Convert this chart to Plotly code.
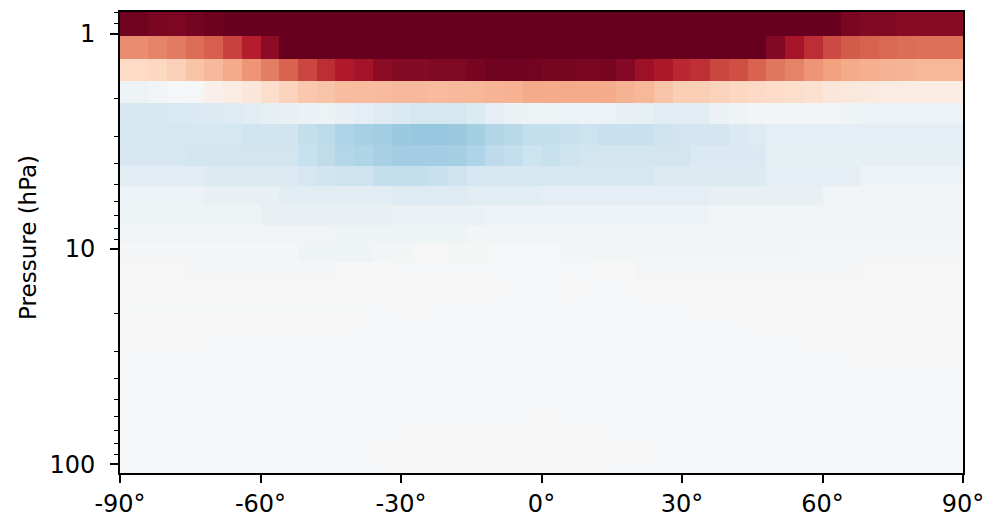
import math
import plotly.graph_objects as go

# ---- data ----
# latitude cell edges (degrees)
lat_edges = [-90, -84, -80, -76, -72, -68, -64, -60, -56, -52, -48, -44, -40, -36, -32,
             -28, -24, -20, -16, -12, -8, -4, 0, 4, 8, 12, 16, 20, 24, 28, 32, 36, 40,
             44, 48, 52, 56, 60, 64, 68, 72, 76, 80, 84, 90]
# pressure cell edges (hPa), top of chart first
p_edges = [0.794, 1.026, 1.316, 1.665, 2.099, 2.636, 3.299, 4.116, 5.095, 6.262, 7.757,
           9.40, 11.48, 13.81, 16.69, 19.86, 23.82, 28.47, 33.88, 40.2, 47.7, 56.6,
           66.9, 79.4, 94.5, 109.7]

# values per pressure layer (one row per layer, 44 latitude bands each)
row_00 = [3.90, 3.80, 3.77, 3.86, 3.95, 4.05, 4.30, 4.50, 4.70, 4.90, 5.10, 5.30, 5.50, 5.60, 5.70, 5.80, 5.80, 5.90, 5.90, 6.00, 6.00, 6.00, 6.00, 6.00, 5.90, 5.90, 5.80, 5.70, 5.60, 5.50, 5.30, 5.10, 4.90, 4.70, 4.50, 4.40, 4.20, 4.05, 3.80, 3.71, 3.71, 3.65, 3.65, 3.65]
row_01 = [1.89, 1.98, 2.09, 2.24, 2.40, 2.74, 3.14, 3.60, 4.10, 4.30, 4.50, 4.70, 4.90, 5.00, 5.10, 5.20, 5.20, 5.30, 5.30, 5.30, 5.30, 5.30, 5.30, 5.30, 5.20, 5.20, 5.10, 5.00, 4.90, 4.80, 4.60, 4.40, 4.20, 4.05, 3.71, 3.34, 2.97, 2.63, 2.46, 2.38, 2.30, 2.24, 2.22, 2.22]
row_02 = [0.80, 0.86, 0.96, 1.16, 1.31, 1.52, 1.78, 2.06, 2.36, 2.69, 2.97, 3.20, 3.36, 3.60, 3.68, 3.68, 3.74, 3.74, 3.82, 3.90, 3.90, 3.87, 3.82, 3.82, 3.80, 3.82, 3.69, 3.44, 3.23, 3.02, 2.94, 2.69, 2.58, 2.36, 2.13, 2.00, 1.78, 1.63, 1.52, 1.44, 1.40, 1.36, 1.32, 1.32]
row_03 = [-0.21, -0.14, -0.04, -0.04, 0.20, 0.34, 0.48, 0.72, 0.90, 1.08, 1.16, 1.26, 1.26, 1.28, 1.30, 1.30, 1.28, 1.30, 1.32, 1.38, 1.41, 1.52, 1.50, 1.52, 1.52, 1.50, 1.40, 1.32, 1.16, 1.00, 1.00, 0.94, 0.86, 0.82, 0.76, 0.72, 0.64, 0.48, 0.44, 0.40, 0.34, 0.34, 0.34, 0.34]
row_04 = [-0.67, -0.67, -0.64, -0.62, -0.56, -0.52, -0.44, -0.36, -0.32, -0.26, -0.21, -0.32, -0.40, -0.52, -0.61, -0.72, -0.72, -0.72, -0.56, -0.40, -0.26, -0.21, -0.21, -0.24, -0.24, -0.24, -0.30, -0.36, -0.44, -0.44, -0.44, -0.26, -0.19, -0.10, -0.10, -0.10, -0.10, -0.10, -0.19, -0.24, -0.24, -0.24, -0.24, -0.24]
row_05 = [-0.72, -0.72, -0.72, -0.72, -0.72, -0.72, -0.80, -0.80, -0.80, -0.97, -1.06, -1.22, -1.32, -1.40, -1.49, -1.52, -1.55, -1.49, -1.36, -1.20, -1.10, -0.98, -0.98, -0.91, -0.85, -0.91, -0.91, -0.91, -0.85, -0.78, -0.78, -0.78, -0.61, -0.53, -0.40, -0.40, -0.40, -0.40, -0.40, -0.40, -0.40, -0.40, -0.40, -0.40]
row_06 = [-0.70, -0.70, -0.70, -0.76, -0.76, -0.76, -0.76, -0.76, -0.76, -0.91, -1.02, -1.17, -1.23, -1.32, -1.40, -1.40, -1.40, -1.36, -1.22, -1.04, -0.98, -0.85, -0.91, -0.85, -0.76, -0.76, -0.76, -0.76, -0.76, -0.76, -0.61, -0.61, -0.61, -0.61, -0.36, -0.36, -0.36, -0.36, -0.36, -0.36, -0.36, -0.36, -0.36, -0.36]
row_07 = [-0.44, -0.44, -0.44, -0.44, -0.56, -0.56, -0.56, -0.56, -0.56, -0.70, -0.80, -0.85, -0.85, -0.98, -0.98, -0.98, -0.91, -0.85, -0.70, -0.70, -0.70, -0.70, -0.70, -0.70, -0.70, -0.70, -0.70, -0.70, -0.56, -0.56, -0.56, -0.56, -0.56, -0.56, -0.40, -0.40, -0.40, -0.40, -0.40, -0.24, -0.24, -0.24, -0.24, -0.24]
row_08 = [-0.24, -0.24, -0.24, -0.24, -0.32, -0.32, -0.32, -0.32, -0.44, -0.44, -0.44, -0.44, -0.44, -0.44, -0.52, -0.52, -0.52, -0.52, -0.44, -0.44, -0.44, -0.44, -0.40, -0.40, -0.40, -0.40, -0.40, -0.40, -0.40, -0.40, -0.40, -0.32, -0.32, -0.32, -0.32, -0.32, -0.32, -0.14, -0.14, -0.14, -0.14, -0.14, -0.14, -0.14]
row_09 = [-0.18, -0.18, -0.18, -0.18, -0.18, -0.18, -0.18, -0.32, -0.32, -0.32, -0.32, -0.32, -0.32, -0.32, -0.28, -0.28, -0.28, -0.28, -0.28, -0.24, -0.24, -0.24, -0.24, -0.24, -0.24, -0.24, -0.24, -0.24, -0.24, -0.24, -0.24, -0.14, -0.14, -0.14, -0.14, -0.14, -0.14, -0.14, -0.14, -0.14, -0.14, -0.14, -0.14, -0.14]
row_10 = [-0.13, -0.13, -0.13, -0.13, -0.13, -0.13, -0.13, -0.13, -0.13, -0.13, -0.13, -0.18, -0.18, -0.18, -0.18, -0.18, -0.18, -0.18, -0.10, -0.10, -0.10, -0.10, -0.10, -0.10, -0.10, -0.10, -0.10, -0.10, -0.10, -0.10, -0.10, -0.10, -0.10, -0.10, -0.10, -0.10, -0.10, -0.10, -0.10, -0.10, -0.10, -0.10, -0.10, -0.10]
row_11 = [-0.08, -0.08, -0.08, -0.08, -0.08, -0.08, -0.08, -0.08, -0.08, -0.18, -0.18, -0.18, -0.18, -0.10, -0.10, -0.03, -0.03, -0.06, -0.06, -0.04, -0.04, -0.04, -0.04, -0.10, -0.10, -0.10, -0.10, -0.10, -0.10, -0.10, -0.10, -0.10, -0.10, -0.10, -0.10, -0.10, -0.08, -0.08, -0.08, -0.08, -0.08, -0.08, -0.08, -0.08]
row_12 = [-0.03, -0.03, -0.03, -0.08, -0.08, -0.08, -0.08, -0.08, -0.08, -0.08, -0.08, 0.00, 0.00, 0.00, -0.04, -0.04, -0.04, -0.04, -0.04, -0.04, -0.04, -0.04, -0.04, -0.04, -0.04, 0.00, 0.00, -0.08, -0.08, -0.08, -0.08, -0.08, -0.08, -0.08, -0.08, -0.08, -0.08, -0.08, -0.08, -0.03, -0.03, -0.03, -0.03, -0.03]
row_13 = [-0.03, -0.03, -0.03, -0.03, -0.03, -0.03, -0.03, -0.03, -0.03, -0.03, -0.03, 0.00, 0.00, 0.00, 0.02, 0.02, 0.02, 0.02, 0.02, 0.02, -0.04, -0.04, -0.04, 0.02, -0.04, -0.04, -0.04, -0.01, -0.01, -0.01, -0.01, -0.01, -0.01, -0.01, -0.01, -0.01, -0.01, -0.01, -0.01, -0.01, -0.01, -0.01, -0.01, -0.01]
row_14 = [-0.02, -0.02, -0.02, -0.02, -0.02, -0.02, -0.02, -0.02, -0.02, -0.02, -0.02, -0.02, -0.04, -0.04, 0.02, 0.02, -0.04, -0.04, -0.04, -0.04, -0.04, -0.04, -0.04, -0.04, -0.04, -0.04, -0.04, -0.04, -0.04, -0.04, -0.01, -0.01, -0.01, -0.01, -0.01, -0.01, -0.01, -0.01, -0.01, -0.01, -0.01, -0.01, -0.01, -0.01]
row_15 = [-0.01, -0.01, -0.01, -0.01, -0.01, -0.01, -0.01, -0.01, -0.01, -0.01, -0.01, -0.01, -0.04, -0.04, -0.04, -0.04, -0.04, -0.04, -0.04, -0.04, -0.04, -0.04, -0.04, -0.04, -0.04, -0.04, -0.04, -0.04, -0.04, -0.04, -0.04, -0.04, -0.04, -0.01, -0.01, -0.01, -0.01, -0.01, -0.01, -0.01, -0.01, -0.01, -0.01, -0.01]
row_16 = [-0.01, -0.01, -0.01, -0.01, -0.04, -0.04, -0.04, -0.04, -0.04, -0.04, -0.04, -0.04, -0.04, -0.04, -0.04, -0.04, -0.04, -0.04, -0.04, -0.04, -0.04, -0.04, -0.04, -0.04, -0.04, -0.04, -0.04, -0.04, -0.04, -0.04, -0.04, -0.04, -0.04, -0.04, -0.04, -0.04, -0.01, -0.01, -0.01, -0.01, -0.01, -0.01, -0.01, -0.01]
row_17 = [-0.04, -0.04, -0.04, -0.04, -0.04, -0.04, -0.04, -0.04, -0.04, -0.04, -0.04, -0.04, -0.04, -0.04, -0.04, -0.04, -0.04, -0.04, -0.04, -0.04, -0.04, -0.04, -0.04, -0.04, -0.04, -0.04, -0.04, -0.04, -0.04, -0.04, -0.04, -0.04, -0.04, -0.04, -0.04, -0.04, -0.04, -0.04, -0.04, -0.01, -0.01, -0.01, -0.01, -0.01]
row_18 = [-0.04, -0.04, -0.04, -0.04, -0.04, -0.04, -0.04, -0.04, -0.04, -0.04, -0.04, -0.04, -0.04, -0.04, -0.04, -0.04, -0.04, -0.04, -0.04, -0.04, -0.04, -0.04, -0.04, -0.04, -0.04, -0.04, -0.04, -0.04, -0.04, -0.04, -0.04, -0.04, -0.04, -0.04, -0.04, -0.04, -0.04, -0.04, -0.04, -0.04, -0.04, -0.04, -0.04, -0.04]
row_19 = [-0.04, -0.04, -0.04, -0.04, -0.04, -0.04, -0.04, -0.04, -0.04, -0.04, -0.04, -0.04, -0.04, -0.04, -0.04, -0.04, -0.04, -0.04, -0.04, -0.04, -0.04, -0.04, -0.04, -0.04, -0.04, -0.04, -0.04, -0.04, -0.04, -0.04, -0.04, -0.04, -0.04, -0.04, -0.04, -0.04, -0.04, -0.04, -0.04, -0.04, -0.04, -0.04, -0.04, -0.04]
row_20 = [-0.04, -0.04, -0.04, -0.04, -0.04, -0.04, -0.04, -0.04, -0.04, -0.04, -0.04, -0.04, -0.04, -0.04, -0.04, -0.04, -0.04, -0.04, -0.04, -0.04, -0.04, -0.04, -0.04, -0.04, -0.04, -0.04, -0.04, -0.04, -0.04, -0.04, -0.04, -0.04, -0.04, -0.04, -0.04, -0.04, -0.04, -0.04, -0.04, -0.04, -0.04, -0.04, -0.04, -0.04]
row_21 = [-0.04, -0.04, -0.04, -0.04, -0.04, -0.04, -0.04, -0.04, -0.04, -0.04, -0.04, -0.04, -0.04, -0.04, -0.04, -0.04, -0.04, -0.04, -0.04, -0.04, -0.04, -0.04, -0.01, -0.04, -0.04, -0.04, -0.04, -0.04, -0.04, -0.04, -0.04, -0.04, -0.04, -0.04, -0.04, -0.04, -0.04, -0.04, -0.04, -0.04, -0.04, -0.04, -0.04, -0.04]
row_22 = [-0.04, -0.04, -0.04, -0.04, -0.04, -0.04, -0.04, -0.04, -0.04, -0.04, -0.04, -0.04, -0.04, -0.04, -0.04, -0.01, -0.01, -0.01, -0.01, -0.01, -0.01, -0.01, -0.01, -0.01, -0.01, -0.04, -0.04, -0.04, -0.04, -0.04, -0.04, -0.04, -0.04, -0.04, -0.04, -0.04, -0.04, -0.04, -0.04, -0.04, -0.04, -0.04, -0.04, -0.04]
row_23 = [-0.04, -0.04, -0.04, -0.04, -0.04, -0.04, -0.04, -0.04, -0.04, -0.04, -0.04, -0.04, -0.04, -0.01, -0.01, -0.01, -0.01, -0.01, -0.01, -0.01, -0.01, -0.01, -0.01, -0.01, -0.01, -0.01, -0.01, -0.01, -0.04, -0.04, -0.04, -0.04, -0.04, -0.04, -0.04, -0.04, -0.04, -0.04, -0.04, -0.04, -0.04, -0.04, -0.04, -0.04]
row_24 = [-0.04, -0.04, -0.04, -0.04, -0.04, -0.04, -0.04, -0.04, -0.04, -0.04, -0.04, -0.04, -0.04, -0.04, -0.01, -0.01, -0.01, -0.01, -0.01, -0.01, -0.01, -0.01, -0.01, -0.01, -0.01, -0.04, -0.04, -0.04, -0.04, -0.04, -0.04, -0.04, -0.04, -0.04, -0.04, -0.04, -0.04, -0.04, -0.04, -0.04, -0.04, -0.04, -0.04, -0.04]

z_rows = [row_00, row_01, row_02, row_03, row_04, row_05, row_06, row_07, row_08, row_09,
          row_10, row_11, row_12, row_13, row_14, row_15, row_16, row_17, row_18, row_19,
          row_20, row_21, row_22, row_23, row_24]

z_limit = 4.0

x_tick_vals = [-90, -60, -30, 0, 30, 60, 90]
x_tick_text = ["-90°", "-60°", "-30°", "0°", "30°", "60°", "90°"]
y_major_vals = [1, 10, 100]
y_major_text = ["1", "10", "100"]
y_minor_vals = [0.8, 0.9, 2, 3, 4, 5, 6, 7, 8, 9, 20, 30, 40, 50, 60, 70, 80, 90]
y_label = "Pressure (hPa)"

# matplotlib RdBu_r
rdbu_r = [[0.0, "rgb(5,48,97)"], [0.1, "rgb(33,102,172)"], [0.2, "rgb(67,147,195)"],
          [0.3, "rgb(146,197,222)"], [0.4, "rgb(209,229,240)"], [0.5, "rgb(247,247,247)"],
          [0.6, "rgb(253,219,199)"], [0.7, "rgb(244,165,130)"], [0.8, "rgb(214,96,77)"],
          [0.9, "rgb(178,24,43)"], [1.0, "rgb(103,0,31)"]]

FONT = "DejaVu Sans"
yrange = [math.log10(p_edges[-1]), math.log10(p_edges[0])]

fig = go.Figure()
fig.add_trace(go.Heatmap(x=lat_edges, y=p_edges, z=z_rows, colorscale=rdbu_r,
                         zmin=-z_limit, zmax=z_limit, showscale=False))
fig.add_trace(go.Scatter(x=[None], y=[None], yaxis="y2", showlegend=False,
                         hoverinfo="skip"))

axis_common = dict(showgrid=False, zeroline=False, ticks="outside", tickcolor="black",
                   automargin=False,
                   tickfont=dict(family=FONT, size=24, color="black"))

# the page body adds an 8px offset, so the figure is 8px smaller than the window
fig.update_layout(
    width=1000, height=510,
    margin=dict(l=112, r=44.5, t=4, b=45, autoexpand=False),
    paper_bgcolor="white", plot_bgcolor="white",
    showlegend=False,
    xaxis=dict(range=[-90, 90], tickmode="array", tickvals=x_tick_vals,
               ticktext=x_tick_text, ticklen=8, tickwidth=1.6, showline=True,
               linecolor="black", linewidth=1.6, mirror=True, **axis_common),
    yaxis=dict(type="log", range=yrange, tickmode="array", tickvals=y_major_vals,
               ticktext=y_major_text, ticklen=8, tickwidth=1.6, showline=True,
               linecolor="black", linewidth=1.6, mirror=True, ticklabelstandoff=10,
               **axis_common),
    yaxis2=dict(type="log", range=yrange, overlaying="y", side="left", anchor="x",
                tickmode="array", tickvals=y_minor_vals,
                ticktext=["" for _ in y_minor_vals], ticklen=5, tickwidth=1.2,
                showline=False, showticklabels=False, **axis_common),
    annotations=[dict(text=y_label, xref="paper", yref="paper", x=0, y=0.51,
                      xshift=-92, textangle=-90, showarrow=False,
                      xanchor="center", yanchor="middle",
                      font=dict(family=FONT, size=23, color="black"))],
)

fig.write_html("out.html")
